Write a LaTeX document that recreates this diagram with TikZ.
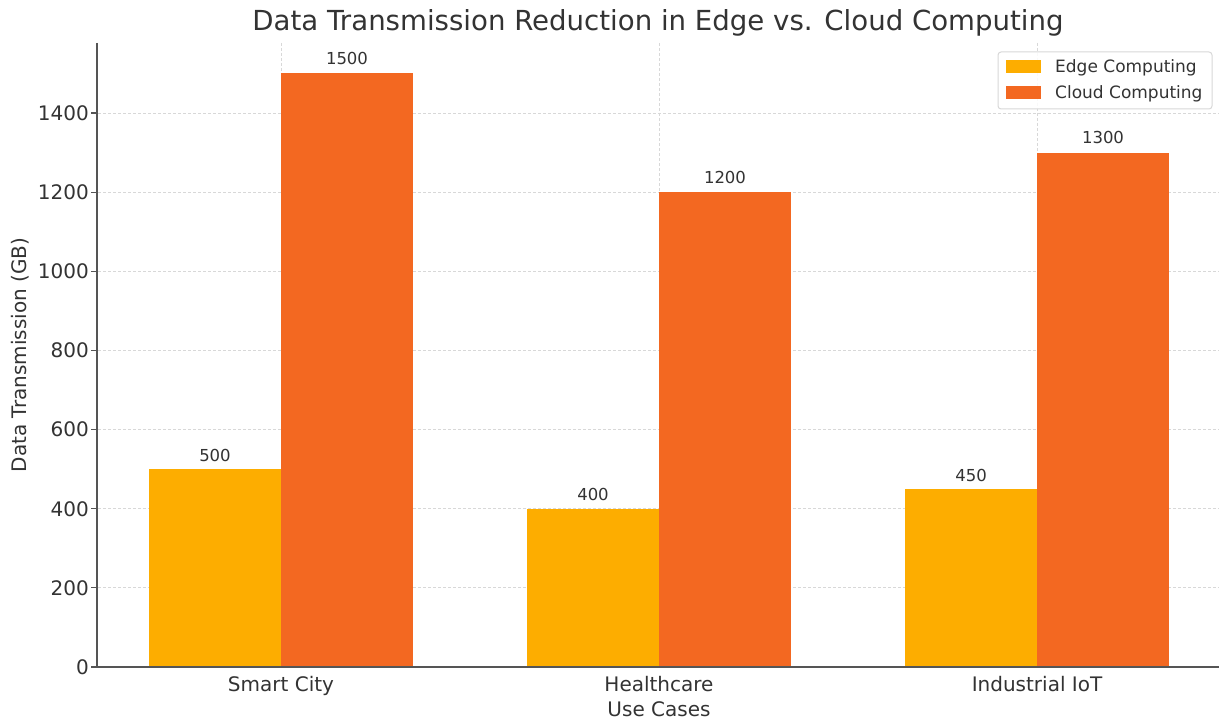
\documentclass[tikz,border=0pt]{standalone}
\usepackage{fontspec}
\setmainfont{DejaVu Sans}
\definecolor{edgec}{HTML}{FDAD00}
\definecolor{cloudc}{HTML}{F36821}
\definecolor{axisc}{HTML}{555555}
\definecolor{gridc}{HTML}{D8D8D8}
\definecolor{txtc}{HTML}{333333}
\tikzset{
  gridline/.style={gridc, dash pattern=on 3bp off 2bp, line width=0.8bp},
  spine/.style={axisc, line width=1.6bp},
  ticklab/.style={text=txtc, font=\fontsize{20bp}{24bp}\selectfont, inner sep=0},
  barlab/.style={text=txtc, font=\fontsize{16.5bp}{20bp}\selectfont, inner sep=0, anchor=base},
  legtext/.style={text=txtc, font=\fontsize{17bp}{20bp}\selectfont, inner sep=0, anchor=west},
  edgebar/.style={fill=edgec, draw=none},
  cloudbar/.style={fill=cloudc, draw=none},
}
\begin{document}
\begin{tikzpicture}[x=1bp,y=-1bp]
\useasboundingbox (0,0) rectangle (1219,719);
\fill[white] (0,0) rectangle (1219,719);
% horizontal grid + ticks
\foreach \v in {0,200,...,1400} {
  \pgfmathsetmacro{\yy}{667-\v*0.3957}
  \ifnum\v>0 \draw[gridline] (98,\yy) -- (1219,\yy); \fi
  \draw[spine, line width=1.2bp] (91,\yy) -- (97,\yy);
  \node[ticklab, anchor=east] (yt\v) at (89,\yy) {\v};
}
% vertical grid
\foreach \x in {281,659,1037} {
  \draw[gridline] (\x,43) -- (\x,667);
}
% bars
\fill[edgebar] (149,469.15) rectangle (281,667);
\fill[cloudbar] (281,73.45) rectangle (413,667);
\fill[edgebar] (527,508.7) rectangle (659,667);
\fill[cloudbar] (659,192.2) rectangle (791,667);
\fill[edgebar] (905,488.9) rectangle (1037,667);
\fill[cloudbar] (1037,152.6) rectangle (1169,667);
% bar labels
\node[barlab] (l1) at (215,461) {500};
\node[barlab] (l2) at (347,65) {1500};
\node[barlab] (l3) at (593,500) {400};
\node[barlab] (l4) at (725,184) {1200};
\node[barlab] (l5) at (971,481) {450};
\node[barlab] (l6) at (1103,144) {1300};
% spines
\draw[spine] (97,43) -- (97,667) -- (1219,667);
% x tick labels
\node[ticklab, anchor=base] (xt1) at (281,691) {Smart City};
\node[ticklab, anchor=base] (xt2) at (659,691) {Healthcare};
\node[ticklab, anchor=base] (xt3) at (1037,691) {Industrial IoT};
% axis labels
\node[ticklab] (xlab) at (659,709) {Use Cases};
\node[ticklab, rotate=90] (ylab) at (20,355) {Data Transmission (GB)};
% title
\node[text=txtc, font=\fontsize{27.6bp}{32bp}\selectfont, inner sep=0] (title) at (658,23) {Data Transmission Reduction in Edge vs. Cloud Computing};
% legend
\draw[gridc, fill=white, fill opacity=0.85, rounded corners=3bp, line width=1bp] (998,52) rectangle (1212,109);
\fill[edgebar] (1006,60) rectangle (1041,73);
\fill[cloudbar] (1006,86) rectangle (1041,99);
\node[legtext] (le) at (1055,67.5) {Edge Computing};
\node[legtext] (lc) at (1055,93.5) {Cloud Computing};
\end{tikzpicture}
\end{document}
